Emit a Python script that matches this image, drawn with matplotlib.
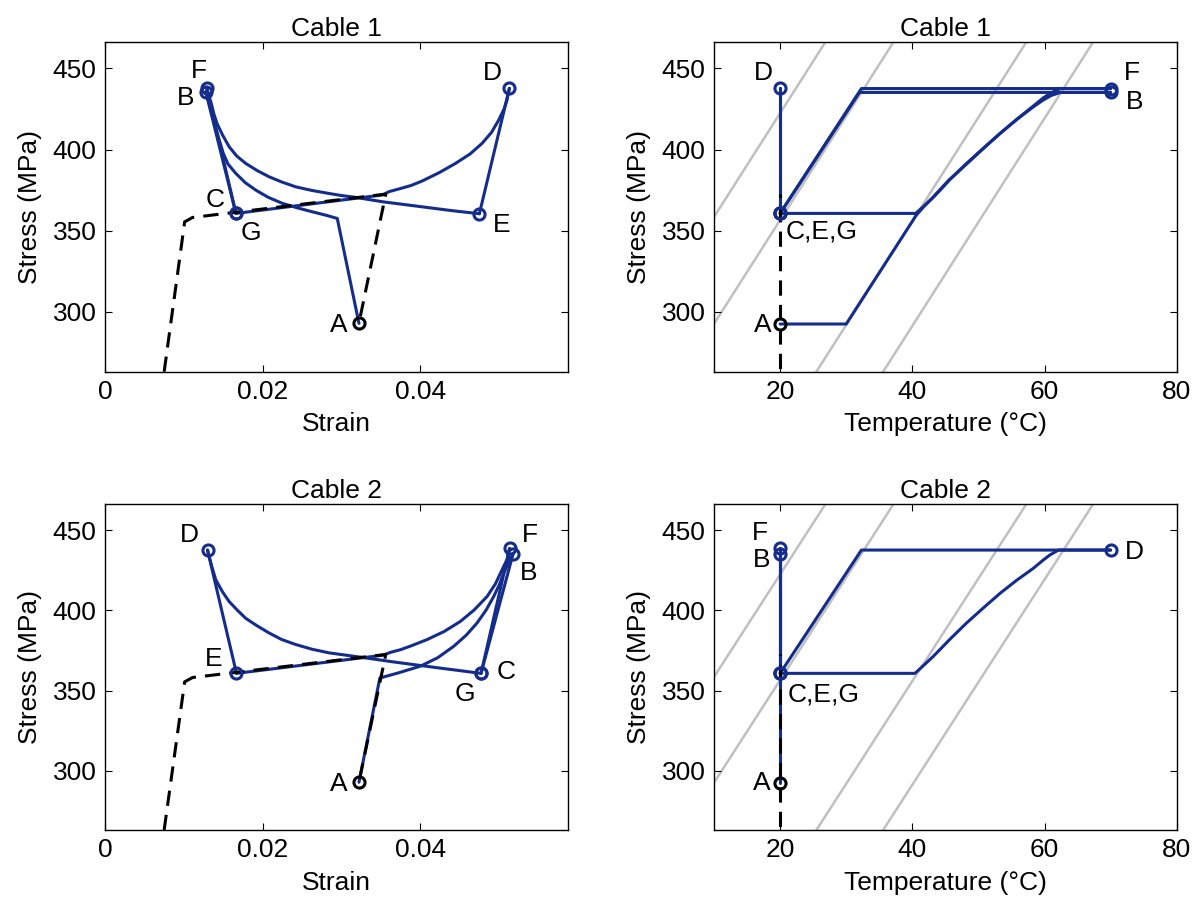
import numpy as np
import matplotlib.pyplot as plt

plt.rcParams['font.family'] = ['Liberation Sans', 'DejaVu Sans']

BLUE = '#142d8c'
GREY = '#c0c0c0'

# --- dashed reference curve (same for both cables) ---
env_strain = [0.0075, 0.0101, 0.0111, 0.0356, 0.0322]
env_stress = [263.0, 355.4, 358.1, 372.5, 293.0]
env_temp = [20, 20]
env_temp_stress = [250.0, 372.5]

# --- phase boundary lines: zero-stress temperatures and slope (MPa/°C) ---
boundary_T0 = [-46.0, -35.7, -15.6, -5.5]
boundary_slope = 6.4

# --- Cable 1, stress-strain path A->B->...->G ---
c1_ab_e = [0.0322, 0.02945, 0.0280, 0.02629, 0.0244, 0.02249, 0.0207, 0.01911, 0.0178,
           0.01658, 0.0156, 0.0150, 0.0146, 0.0141, 0.01375, 0.0134, 0.01278]
c1_ab_s = [292.8, 357.5, 359.5, 361.6, 364.0, 366.8, 370.5, 375.0, 379.5,
           385.3, 391.0, 397.6, 404.0, 412.0, 418.5, 425.0, 435.6]
c1_bc_e = [0.01278, 0.0166]
c1_bc_s = [435.6, 360.6]
c1_cd_e = [0.0166, 0.0352, 0.0360, 0.0375, 0.0388, 0.04022, 0.0424, 0.04443, 0.0463,
           0.04781, 0.0490, 0.04991, 0.0506, 0.05097, 0.05127]
c1_cd_s = [360.6, 372.0, 374.0, 376.0, 377.8, 380.6, 385.8, 391.4, 397.3,
           403.8, 410.5, 418.1, 425.0, 430.5, 437.7]
c1_de_e = [0.05127, 0.04747]
c1_de_s = [437.7, 360.4]
c1_ef_e = [0.04747, 0.0440, 0.0400, 0.03515, 0.0334, 0.03177, 0.0300, 0.02839, 0.0262,
           0.02418, 0.0224, 0.0208, 0.0193, 0.01785, 0.0167, 0.01574, 0.0149, 0.0142,
           0.0138, 0.0135, 0.0129]
c1_ef_s = [360.4, 362.3, 364.8, 367.8, 369.2, 370.5, 371.6, 372.9, 374.8,
           377.0, 380.0, 383.2, 387.0, 391.4, 396.0, 401.7, 409.0, 416.1,
           422.0, 428.0, 437.7]
c1_fg_e = [0.0129, 0.0166]
c1_fg_s = [437.7, 360.6]

# --- Cable 1, stress-temperature path ---
c1_ab_T = [20, 30.0, 40.6, 41.9, 43.3, 45.7, 48.2, 50.8, 53.3, 55.8, 58.3, 59.8, 61.0, 62.4, 70]
c1_ab_Ts = [292.4, 292.4, 359.5, 365.5, 371.0, 381.5, 391.4, 401.0, 410.0, 418.5, 426.3,
            430.5, 433.3, 435.2, 435.2]
c1_bc_T = [70, 32.0, 20]
c1_bc_Ts = [435.2, 435.2, 360.6]
c1_cd_T = [20, 20]
c1_cd_Ts = [360.6, 437.7]
c1_de_T = [20, 20]
c1_de_Ts = [437.7, 360.6]
c1_ef_T = [20, 40.5, 41.8, 43.0, 45.5, 48.2, 50.8, 53.3, 55.8, 58.3, 59.8, 61.0, 62.4, 70]
c1_ef_Ts = [360.6, 360.6, 365.2, 370.0, 381.0, 391.0, 400.8, 410.0, 418.6, 426.8,
            431.8, 435.0, 437.6, 437.6]
c1_fg_T = [70, 32.3, 20]
c1_fg_Ts = [437.6, 437.6, 360.6]

# --- Cable 2, stress-strain path ---
c2_ab_e = [0.0322, 0.03485, 0.0372, 0.0400, 0.0422, 0.04422, 0.0458, 0.04717, 0.0483,
           0.04928, 0.0500, 0.05055, 0.0512, 0.05173]
c2_ab_s = [292.8, 357.8, 361.0, 365.2, 370.5, 377.6, 384.5, 392.1, 400.0,
           408.6, 416.0, 423.1, 430.0, 435.1]
c2_bc_e = [0.05173, 0.04768]
c2_bc_s = [435.1, 360.7]
c2_cd_e = [0.04768, 0.0420, 0.03662, 0.0324, 0.02839, 0.0262, 0.02418, 0.0224, 0.0208,
           0.0193, 0.01785, 0.0168, 0.01574, 0.0149, 0.01405, 0.0135, 0.0130]
c2_cd_s = [360.7, 364.3, 367.8, 370.8, 373.5, 375.8, 378.7, 381.8, 385.9,
           390.3, 395.0, 400.0, 405.5, 411.5, 419.0, 428.0, 437.6]
c2_de_e = [0.0130, 0.01667]
c2_de_s = [437.6, 360.7]
c2_ef_e = [0.01667, 0.0352, 0.0362, 0.0375, 0.0390, 0.04085, 0.0430, 0.04506, 0.0468,
           0.04844, 0.0495, 0.05034, 0.0510, 0.0513]
c2_ef_s = [360.7, 372.0, 373.8, 375.5, 378.2, 381.8, 386.8, 393.1, 400.2,
           408.6, 416.5, 425.2, 432.0, 438.6]
c2_fg_e = [0.0513, 0.04768]
c2_fg_s = [438.6, 360.7]

# --- Cable 2, stress-temperature path ---
c2_ab_T = [20, 20]
c2_ab_Ts = [292.4, 435.1]
c2_bc_T = [20, 20]
c2_bc_Ts = [435.1, 360.7]
c2_cd_T = [20, 40.4, 41.8, 43.2, 45.7, 48.2, 50.8, 53.3, 55.8, 58.3, 59.7, 60.8, 62.1, 70]
c2_cd_Ts = [360.7, 360.7, 366.0, 371.4, 382.0, 392.1, 401.7, 410.7, 418.8, 426.2,
            431.0, 434.5, 437.6, 437.6]
c2_de_T = [70, 32.3, 20]
c2_de_Ts = [437.6, 437.6, 360.7]
c2_ef_T = [20, 20]
c2_ef_Ts = [360.7, 438.6]
c2_fg_T = [20, 20]
c2_fg_Ts = [438.6, 360.7]

# --- point labels ---
c1_strain_labels = ['A', 'B', 'C', 'D', 'E', 'F', 'G']
c1_strain_lx = [0.02966, 0.01025, 0.01392, 0.04907, 0.05034, 0.01186, 0.01848]
c1_strain_ly = [291.7, 431.5, 368.8, 446.9, 353.4, 448.5, 348.3]
c1_temp_labels = ['A', 'B', 'C,E,G', 'D', 'F']
c1_temp_lx = [17.4, 73.6, 20.9, 17.4, 73.2]
c1_temp_ly = [291.7, 429.4, 349.3, 446.9, 447.3]
c2_strain_labels = ['A', 'B', 'C', 'D', 'E', 'F', 'G']
c2_strain_lx = [0.02966, 0.05371, 0.05089, 0.01067, 0.01384, 0.05392, 0.04561]
c2_strain_ly = [292.0, 423.1, 361.5, 446.9, 369.8, 446.9, 347.7]
c2_temp_labels = ['A', 'B', 'C,E,G', 'D', 'F']
c2_temp_lx = [17.2, 17.2, 21.2, 73.6, 17.0]
c2_temp_ly = [292.4, 431.4, 347.4, 436.5, 448.0]

YLIM = (263.0, 466.3)


def style_axes(ax, title, xlabel):
    ax.set_title(title, fontsize=19, pad=4)
    ax.set_xlabel(xlabel, fontsize=19, labelpad=6)
    ax.set_ylabel('Stress (MPa)', fontsize=19, labelpad=8)
    ax.set_ylim(*YLIM)
    ax.set_yticks([300, 350, 400, 450])
    ax.tick_params(direction='in', top=True, right=True, length=5,
                   width=0.8, labelsize=19, pad=6)
    for sp in ax.spines.values():
        sp.set_linewidth(1.0)


def draw_path(ax, xs_list, ys_list, env_x, env_y):
    for xs, ys in zip(xs_list, ys_list):
        ax.plot(xs, ys, color=BLUE, lw=2.2, zorder=3,
                solid_joinstyle='round', solid_capstyle='round')
    ax.plot(env_x, env_y, color='black', lw=2.2, dashes=(5, 3), zorder=4)
    # open circle markers at the state points
    px = [xs[0] for xs in xs_list] + [xs_list[-1][-1]]
    py = [ys[0] for ys in ys_list] + [ys_list[-1][-1]]
    ax.plot(px[1:], py[1:], 'o', ms=8, mfc='none', mec=BLUE, mew=2.2, zorder=5)
    ax.plot(px[0], py[0], 'o', ms=8, mfc='none', mec='black', mew=2.2, zorder=6)


def draw_labels(ax, labels, lx, ly):
    for t, x, y in zip(labels, lx, ly):
        ha = 'left' if ',' in t else 'center'
        ax.text(x, y, t, fontsize=19, ha=ha, va='center', zorder=7)


def draw_boundaries(ax):
    s = np.array([200.0, 520.0])
    for t0 in boundary_T0:
        ax.plot(t0 + s / boundary_slope, s, color=GREY, lw=1.8, zorder=1)


fig = plt.figure(figsize=(12, 9.09), dpi=100)
ax1 = fig.add_axes([0.0875, 0.5911, 0.3858, 0.3627])
ax2 = fig.add_axes([0.595, 0.5911, 0.3856, 0.3627])
ax3 = fig.add_axes([0.0875, 0.0869, 0.3858, 0.3586])
ax4 = fig.add_axes([0.595, 0.0869, 0.3856, 0.3586])

# Cable 1 strain
draw_path(ax1,
          [c1_ab_e, c1_bc_e, c1_cd_e, c1_de_e, c1_ef_e, c1_fg_e],
          [c1_ab_s, c1_bc_s, c1_cd_s, c1_de_s, c1_ef_s, c1_fg_s],
          env_strain, env_stress)
draw_labels(ax1, c1_strain_labels, c1_strain_lx, c1_strain_ly)

# Cable 1 temperature
draw_boundaries(ax2)
draw_path(ax2,
          [c1_ab_T, c1_bc_T, c1_cd_T, c1_de_T, c1_ef_T, c1_fg_T],
          [c1_ab_Ts, c1_bc_Ts, c1_cd_Ts, c1_de_Ts, c1_ef_Ts, c1_fg_Ts],
          env_temp, env_temp_stress)
draw_labels(ax2, c1_temp_labels, c1_temp_lx, c1_temp_ly)

# Cable 2 strain
draw_path(ax3,
          [c2_ab_e, c2_bc_e, c2_cd_e, c2_de_e, c2_ef_e, c2_fg_e],
          [c2_ab_s, c2_bc_s, c2_cd_s, c2_de_s, c2_ef_s, c2_fg_s],
          env_strain, env_stress)
draw_labels(ax3, c2_strain_labels, c2_strain_lx, c2_strain_ly)

# Cable 2 temperature
draw_boundaries(ax4)
draw_path(ax4,
          [c2_ab_T, c2_bc_T, c2_cd_T, c2_de_T, c2_ef_T, c2_fg_T],
          [c2_ab_Ts, c2_bc_Ts, c2_cd_Ts, c2_de_Ts, c2_ef_Ts, c2_fg_Ts],
          env_temp, env_temp_stress)
draw_labels(ax4, c2_temp_labels, c2_temp_lx, c2_temp_ly)

for ax, title in [(ax1, 'Cable 1'), (ax3, 'Cable 2')]:
    style_axes(ax, title, 'Strain')
    ax.set_xlim(0, 0.0587)
    ax.set_xticks([0, 0.02, 0.04])
    ax.set_xticklabels(['0', '0.02', '0.04'])

for ax, title in [(ax2, 'Cable 1'), (ax4, 'Cable 2')]:
    style_axes(ax, title, 'Temperature (°C)')
    ax.set_xlim(10, 80)
    ax.set_xticks([20, 40, 60, 80])

fig.savefig('out.png', dpi=100)
